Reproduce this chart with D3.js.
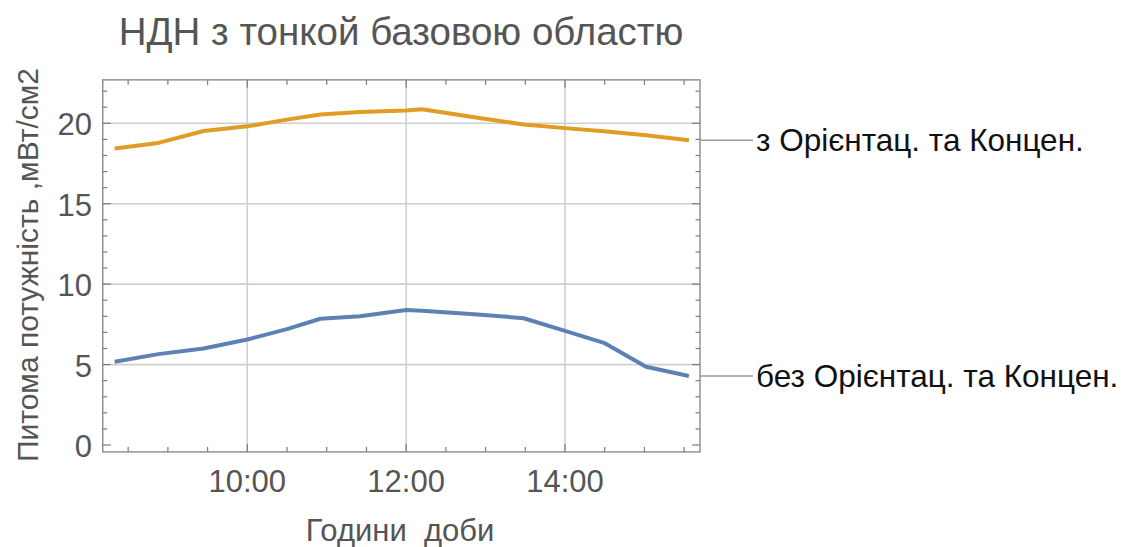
<!DOCTYPE html>
<html><head><meta charset="utf-8">
<script src="https://cdn.jsdelivr.net/npm/d3@7"></script>
<style>body{margin:0;background:#fff}svg{display:block}text{font-family:"Liberation Sans",Arial,sans-serif}</style>
</head><body><svg id="c" width="1121" height="547"></svg>
<script>
const hours = [8.33, 8.88, 9.45, 10.0, 10.5, 10.92, 11.42, 12.0, 12.2, 12.9, 13.48, 14.0, 14.49, 15.02, 15.56];
const withOrient = [18.43, 18.78, 19.52, 19.81, 20.23, 20.55, 20.7, 20.8, 20.87, 20.35, 19.93, 19.7, 19.5, 19.25, 18.94];
const withoutOrient = [5.17, 5.65, 6.0, 6.56, 7.2, 7.85, 8.0, 8.39, 8.35, 8.12, 7.88, 7.1, 6.35, 4.86, 4.29];
const xMajor = [10, 12, 14];
const xTickLabels = ["10:00", "12:00", "14:00"];
const yMajor = [0, 5, 10, 15, 20];
const seriesNames = ["з Орієнтац. та Концен.", "без Орієнтац. та Концен."];
const title = "НДН з тонкой базовою областю";
const xTitle = "Години  доби";
const yTitle = "Питома потужність ,мВт/см2";

const svg = d3.select("#c");
const x = d3.scaleLinear().domain([10, 14]).range([247.3, 565]);
const y = d3.scaleLinear().domain([0, 20]).range([445, 123.3]);
const xMin = 8.18, xMax = 15.7, yMin = -0.43, yMax = 22.7;
const L = x(xMin), R = x(xMax), T = y(yMax), B = y(yMin);

// gridlines
const grid = svg.append("g").attr("stroke", "#cfcfcf").attr("stroke-width", 1.6);
grid.selectAll(".gx").data(xMajor).join("line").attr("x1", d => x(d)).attr("x2", d => x(d)).attr("y1", T).attr("y2", B);
grid.selectAll(".gy").data(yMajor.filter(d => d > 0)).join("line").attr("y1", d => y(d)).attr("y2", d => y(d)).attr("x1", L).attr("x2", R);

// frame ticks
const xMinor = d3.range(8.5, 15.7, 0.5);
const yMinor = d3.range(0, 23, 1);
const tk = svg.append("g").attr("stroke", "#7a7a7a").attr("stroke-width", 1.2);
xMinor.forEach(t => {
  const len = xMajor.includes(t) ? 8 : 5;
  tk.append("line").attr("x1", x(t)).attr("x2", x(t)).attr("y1", B).attr("y2", B - len);
  tk.append("line").attr("x1", x(t)).attr("x2", x(t)).attr("y1", T).attr("y2", T + len);
});
yMinor.forEach(v => {
  const len = yMajor.includes(v) ? 8 : 4.5;
  tk.append("line").attr("y1", y(v)).attr("y2", y(v)).attr("x1", L).attr("x2", L + len);
  tk.append("line").attr("y1", y(v)).attr("y2", y(v)).attr("x1", R).attr("x2", R - len);
});
svg.append("rect").attr("x", L).attr("y", T).attr("width", R - L).attr("height", B - T)
  .attr("fill", "none").attr("stroke", "#8a8a8a").attr("stroke-width", 1.4);

// tick labels
svg.append("g").selectAll("text").data(xMajor).join("text")
  .attr("x", d => x(d)).attr("y", 492).attr("text-anchor", "middle")
  .attr("font-size", 31).attr("fill", "#555").text((d, i) => xTickLabels[i]);
svg.append("g").selectAll("text").data(yMajor).join("text")
  .attr("x", 92).attr("y", d => y(d) + 12).attr("text-anchor", "end")
  .attr("font-size", 31).attr("fill", "#555").text(d => d);

// lines
const line = d3.line().x((d, i) => x(hours[i])).y(d => y(d));
svg.append("path").datum(withOrient).attr("d", line).attr("fill", "none")
  .attr("stroke", "#E19C24").attr("stroke-width", 4).attr("stroke-linejoin", "round");
svg.append("path").datum(withoutOrient).attr("d", line).attr("fill", "none")
  .attr("stroke", "#5E81B5").attr("stroke-width", 4).attr("stroke-linejoin", "round");

// callouts
const ends = [withOrient[withOrient.length - 1], withoutOrient[withoutOrient.length - 1]];
ends.forEach((v, i) => {
  svg.append("line").attr("x1", R).attr("x2", 753).attr("y1", y(v)).attr("y2", y(v))
    .attr("stroke", "#999").attr("stroke-width", 1.5);
  svg.append("text").attr("x", 756).attr("y", y(v) + 11).attr("font-size", 31.5).attr("fill", "#111").text(seriesNames[i]);
});

// titles
svg.append("text").attr("x", 401).attr("y", 45).attr("text-anchor", "middle").attr("font-size", 38.5).attr("fill", "#555").text(title);
svg.append("text").attr("x", 400).attr("y", 541).attr("text-anchor", "middle").attr("font-size", 31).attr("fill", "#555").attr("xml:space", "preserve").style("white-space", "pre").text(xTitle);
svg.append("text").attr("transform", "translate(38,265) rotate(-90)").attr("text-anchor", "middle").attr("font-size", 30).attr("fill", "#555").text(yTitle);
</script></body></html>
